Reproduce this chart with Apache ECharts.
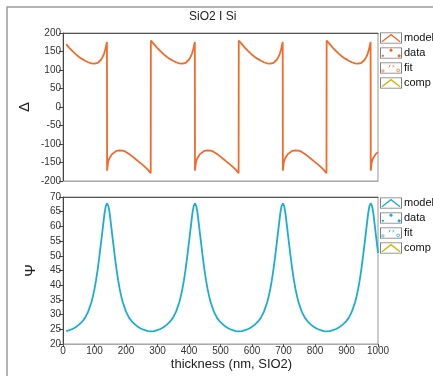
<!DOCTYPE html>
<html>
<head>
<meta charset="utf-8">
<script src="https://cdn.jsdelivr.net/npm/echarts@6/dist/echarts.min.js"></script>
<style>
  html, body { margin: 0; padding: 0; background: #fff; }
  #chart { width: 433px; height: 376px; }
</style>
</head>
<body>
<div id="chart"></div>
<script>
// Delta (top panel)
const deltaThickness = [
  10, 20, 30, 40, 50, 60, 70, 80, 90, 100, 110, 115, 120, 125, 130, 134, 137, 139.5,
  140, 141, 143, 146, 150, 155, 160, 170, 180, 190, 200, 210, 220, 230, 240, 250, 260, 270, 278.5,
  279, 280, 284, 289, 299, 309, 319, 329, 339, 349, 359, 369, 379, 389, 394, 399, 404, 409, 413, 416, 418.5,
  419, 420, 422, 425, 429, 434, 439, 449, 459, 469, 479, 489, 499, 509, 519, 529, 539, 549, 557.5,
  558, 559, 563, 568, 578, 588, 598, 608, 618, 628, 638, 648, 658, 668, 673, 678, 683, 688, 692, 695, 697.5,
  698, 699, 701, 704, 708, 713, 718, 728, 738, 748, 758, 768, 778, 788, 798, 808, 818, 828, 836.5,
  837, 838, 842, 847, 857, 867, 877, 887, 897, 907, 917, 927, 937, 947, 952, 957, 962, 967, 971, 974, 976.5,
  977, 978, 980, 983, 987, 992, 997, 1000
];
const deltaValues = [
  170, 160, 151, 143, 136, 130, 125, 121, 118, 117, 119, 122, 127, 134, 143, 155, 166, 176,
  -172, -165, -150, -141, -135, -128, -123.5, -118.5, -117, -118, -121.5, -127, -133.5, -140.5, -147.5, -154.5, -162, -170, -179,
  179.5, 179, 175, 170, 160, 151, 143, 136, 130, 125, 121, 118, 117, 119, 122, 127, 134, 143, 155, 166, 176,
  -172, -165, -150, -141, -135, -128, -123.5, -118.5, -117, -118, -121.5, -127, -133.5, -140.5, -147.5, -154.5, -162, -170, -179,
  179.5, 179, 175, 170, 160, 151, 143, 136, 130, 125, 121, 118, 117, 119, 122, 127, 134, 143, 155, 166, 176,
  -172, -165, -150, -141, -135, -128, -123.5, -118.5, -117, -118, -121.5, -127, -133.5, -140.5, -147.5, -154.5, -162, -170, -179,
  179.5, 179, 175, 170, 160, 151, 143, 136, 130, 125, 121, 118, 117, 119, 122, 127, 134, 143, 155, 166, 176,
  -172, -165, -150, -141, -135, -128, -123.5, -121.8
];

// Psi (bottom panel)
const psiThickness = [
  10, 20, 30, 40, 50, 60, 70, 80, 90, 95, 100, 105, 110, 115, 120, 124, 128, 132, 136, 140,
  144, 148, 152, 156, 160, 165, 170, 175, 180, 185, 190, 200, 210, 220, 230, 240, 250, 260, 270, 279.5,
  289, 299, 309, 319, 329, 339, 349, 359, 369, 374, 379, 384, 389, 394, 399, 403, 407, 411, 415, 419,
  423, 427, 431, 435, 439, 444, 449, 454, 459, 464, 469, 479, 489, 499, 509, 519, 529, 539, 549, 558.5,
  568, 578, 588, 598, 608, 618, 628, 638, 648, 653, 658, 663, 668, 673, 678, 682, 686, 690, 694, 698,
  702, 706, 710, 714, 718, 723, 728, 733, 738, 743, 748, 758, 768, 778, 788, 798, 808, 818, 828, 837.5,
  847, 857, 867, 877, 887, 897, 907, 917, 927, 932, 937, 942, 947, 952, 957, 961, 965, 969, 973, 977,
  981, 985, 989, 993, 997, 1000
];
const psiValues = [
  24.4, 24.7, 25.1, 25.7, 26.5, 27.5, 28.9, 31.0, 34.1, 36.2, 38.7, 41.7, 45.3, 49.4, 53.8, 57.4, 61.0, 64.6, 67.0, 67.8,
  67.0, 64.6, 61.0, 57.4, 53.8, 49.4, 45.3, 41.7, 38.7, 36.2, 34.1, 31.0, 28.9, 27.5, 26.5, 25.7, 25.1, 24.7, 24.4, 24.3,
  24.4, 24.7, 25.1, 25.7, 26.5, 27.5, 28.9, 31.0, 34.1, 36.2, 38.7, 41.7, 45.3, 49.4, 53.8, 57.4, 61.0, 64.6, 67.0, 67.8,
  67.0, 64.6, 61.0, 57.4, 53.8, 49.4, 45.3, 41.7, 38.7, 36.2, 34.1, 31.0, 28.9, 27.5, 26.5, 25.7, 25.1, 24.7, 24.4, 24.3,
  24.4, 24.7, 25.1, 25.7, 26.5, 27.5, 28.9, 31.0, 34.1, 36.2, 38.7, 41.7, 45.3, 49.4, 53.8, 57.4, 61.0, 64.6, 67.0, 67.8,
  67.0, 64.6, 61.0, 57.4, 53.8, 49.4, 45.3, 41.7, 38.7, 36.2, 34.1, 31.0, 28.9, 27.5, 26.5, 25.7, 25.1, 24.7, 24.4, 24.3,
  24.4, 24.7, 25.1, 25.7, 26.5, 27.5, 28.9, 31.0, 34.1, 36.2, 38.7, 41.7, 45.3, 49.4, 53.8, 57.4, 61.0, 64.6, 67.0, 67.8,
  67.0, 64.6, 61.0, 57.4, 53.8, 51.0
];

const legendNames = ['model', 'data', 'fit', 'comp'];

const FONT = 'Liberation Sans, Arial, sans-serif';
const ORANGE = '#f26a2c';
const CYAN = '#1aaed2';
const YELLOW = '#cdb800';

// legend pictures (box with a little glyph), drawn as svg
const svgIcon = (inner) => {
  const svg = '<svg xmlns="http://www.w3.org/2000/svg" width="23" height="12" viewBox="0 0 23 12">' +
    '<rect x="0.5" y="0.5" width="22" height="11" fill="#fff" stroke="#7a7a7a"/>' + inner + '</svg>';
  return 'image://data:image/svg+xml;charset=utf-8,' + encodeURIComponent(svg);
};
const makeIcons = (c) => [
  svgIcon('<polyline points="2,10 11.5,2.5 21,10" fill="none" stroke="' + c + '" stroke-width="1.4"/>'),
  svgIcon('<circle cx="11.5" cy="3" r="1.6" fill="' + c + '"/><circle cx="3" cy="9" r="1.2" fill="' + c + '"/><circle cx="20" cy="9" r="1.6" fill="' + c + '"/>'),
  svgIcon('<circle cx="3" cy="9" r="1.2" fill="none" stroke="' + c + '" stroke-width="0.8"/>' +
    '<path d="M9 5 L11 3 M10 3 L10 5 M13 3 L15 5 M15 3 L13 5" stroke="' + c + '" stroke-width="0.7"/>' +
    '<circle cx="19" cy="8.5" r="1.5" fill="none" stroke="' + c + '" stroke-width="0.8"/>'),
  svgIcon('<polyline points="2,10 11.5,2.5 21,10" fill="none" stroke="' + YELLOW + '" stroke-width="1.4"/>')
];

const zip = (xs, ys) => xs.map((x, i) => [x, ys[i]]);

const chart = echarts.init(document.getElementById('chart'), null, { renderer: 'canvas' });

const legendFor = (top, color) => {
  const icons = makeIcons(color);
  return {
    orient: 'vertical',
    left: 380,
    top: top,
    padding: 0,
    itemWidth: 22,
    itemHeight: 12,
    itemGap: 3,
    selectedMode: false,
    textStyle: { fontSize: 11, color: '#111', fontFamily: FONT, padding: [0, 0, 0, -3] },
    data: legendNames.map((n, i) => ({ name: n, icon: icons[i] }))
  };
};

const yAxisFor = (gridIndex, min, max, interval, name, nameGap) => ({
  type: 'value',
  gridIndex: gridIndex,
  min: min,
  max: max,
  interval: interval,
  name: name,
  nameLocation: 'middle',
  nameGap: nameGap,
  nameMoveOverlap: false,
  nameTextStyle: { fontSize: 15, color: '#222', fontFamily: FONT },
  axisLine: { show: true, onZero: false, lineStyle: { color: '#444', width: 1 } },
  axisTick: { show: true, length: 4, lineStyle: { color: '#444' } },
  axisLabel: { fontSize: 10, color: '#333', margin: 2, fontFamily: FONT },
  splitLine: { show: false }
});

const plainX = {
  type: 'value', min: 0, max: 1000, interval: 100,
  axisLine: { show: true, onZero: false, lineStyle: { color: '#aaa' } },
  axisTick: { show: false }, axisLabel: { show: false }, splitLine: { show: false }
};

const option = {
  animation: false,
  backgroundColor: '#fff',
  title: {
    text: 'SiO2 I Si',
    left: 189,
    top: 11,
    padding: 0,
    textStyle: { fontSize: 12, fontWeight: 'normal', color: '#222', fontFamily: FONT }
  },
  graphic: [{
    type: 'polyline',
    shape: { points: [[7, 376], [7, 7], [433, 7]] },
    style: { stroke: '#9a9a9a', lineWidth: 1.5, fill: null }
  }],
  legend: [legendFor(32, ORANGE), legendFor(197, CYAN)],
  grid: [
    { left: 63, top: 33, width: 315, height: 148, show: true, borderColor: '#999', borderWidth: 1, backgroundColor: 'transparent' },
    { left: 63, top: 197, width: 315, height: 147, show: true, borderColor: '#999', borderWidth: 1, backgroundColor: 'transparent' }
  ],
  xAxis: [
    Object.assign({}, plainX, { gridIndex: 0, position: 'bottom' }),
    {
      type: 'value', gridIndex: 1, position: 'bottom', min: 0, max: 1000, interval: 100,
      name: 'thickness (nm, SIO2)',
      nameLocation: 'middle',
      nameGap: 14,
      nameTextStyle: { fontSize: 13, color: '#222', fontFamily: FONT, padding: [0, 0, 0, 22] },
      axisLine: { show: true, onZero: false, lineStyle: { color: '#aaa' } },
      axisTick: { show: true, length: 3, lineStyle: { color: '#555' } },
      axisLabel: { fontSize: 10, color: '#333', margin: 2, fontFamily: FONT, formatter: (v) => String(v) },
      splitLine: { show: false }
    },
    Object.assign({}, plainX, { gridIndex: 0, position: 'top', axisLine: { show: true, onZero: false, lineStyle: { color: '#555' } } }),
    Object.assign({}, plainX, { gridIndex: 1, position: 'top', axisLine: { show: true, onZero: false, lineStyle: { color: '#555' } } })
  ],
  yAxis: [
    yAxisFor(0, -200, 200, 50, 'Δ', 31),
    yAxisFor(1, 20, 70, 5, 'Ψ', 25)
  ],
  series: [
    {
      name: 'model', type: 'line', xAxisIndex: 0, yAxisIndex: 0,
      data: zip(deltaThickness, deltaValues),
      showSymbol: false, symbol: 'none', color: ORANGE,
      lineStyle: { color: ORANGE, width: 1.8 }
    },
    {
      name: 'model', type: 'line', xAxisIndex: 1, yAxisIndex: 1,
      data: zip(psiThickness, psiValues),
      showSymbol: false, symbol: 'none', color: CYAN,
      lineStyle: { color: CYAN, width: 1.8 }
    },
    { name: 'data', type: 'line', xAxisIndex: 0, yAxisIndex: 0, data: [], color: ORANGE },
    { name: 'fit', type: 'line', xAxisIndex: 0, yAxisIndex: 0, data: [], color: ORANGE },
    { name: 'comp', type: 'line', xAxisIndex: 0, yAxisIndex: 0, data: [], color: YELLOW }
  ]
};

option && chart.setOption(option);
</script>
</body>
</html>
